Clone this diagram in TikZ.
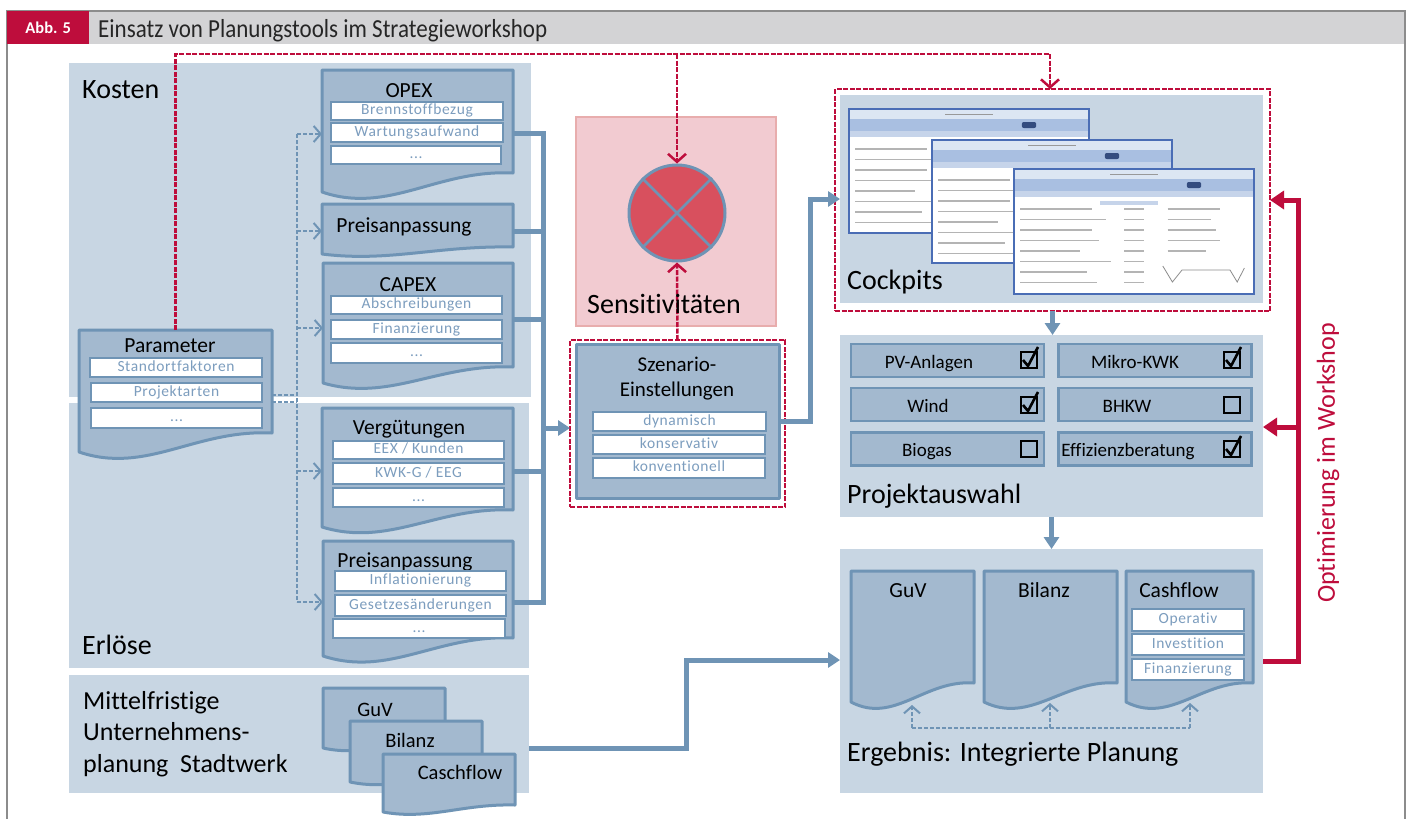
\documentclass[tikz,border=0pt]{standalone}
\usepackage{fontspec}
\usepackage{graphicx}
\setmainfont{Carlito}[Ligatures=NoCommon]
\newfontfamily\spacedfont[LetterSpace=4,Ligatures=NoCommon]{Carlito}
\usetikzlibrary{arrows.meta,calc}
\definecolor{panel}{HTML}{C8D6E3}
\definecolor{docfill}{HTML}{A3B9CF}
\definecolor{docline}{HTML}{6F94B5}
\definecolor{itext}{HTML}{7C9DBE}
\definecolor{myred}{HTML}{BE0D3C}
\definecolor{hgray}{HTML}{D3D3D5}
\definecolor{pinkfill}{HTML}{F2CBD1}
\definecolor{pinkline}{HTML}{E8ADAD}
\definecolor{circfill}{HTML}{D8505E}
\definecolor{shotline}{HTML}{4A6DB5}
\definecolor{shotA}{HTML}{DCE6F3}
\definecolor{shotB}{HTML}{A9BFE1}
\definecolor{shotC}{HTML}{C6D4EA}
\definecolor{shotT}{HTML}{B4B4B4}
\tikzset{
  panelst/.style={fill=panel},
  docst/.style={fill=docfill, draw=docline, line width=3pt, line join=round},
  iboxst/.style={fill=white, draw=docline, line width=2.5pt, inner sep=0pt, text=itext, font=\spacedfont\fontsize{15.5}{15.5}\selectfont, text height=10pt, text depth=3pt},
  bigl/.style={font=\fontsize{28}{28}\selectfont, anchor=base west, inner sep=0pt},
  ttl/.style={font=\fontsize{21.5}{21.5}\selectfont, anchor=base, inner sep=0pt},
  itemst/.style={fill=docfill, draw=docline, line width=2.5pt, inner sep=0pt, minimum width=193pt, minimum height=33pt},
  itemtxt/.style={font=\fontsize{19}{19}\selectfont, anchor=base, inner sep=0pt},
  cbst/.style={draw=black, line width=2pt, minimum size=16pt, inner sep=0pt},
  bus/.style={draw=docline, line width=5pt},
  busarrow/.style={draw=docline, line width=5pt, -{Triangle[length=12pt,width=15pt]}},
  bdash/.style={draw=docline, line width=2pt, dash pattern=on 4pt off 2pt},
  bdasharr/.style={bdash, -{Straight Barb[length=7pt,width=16pt,line width=2pt]}},
  reddash/.style={draw=myred, line width=2.5pt, dash pattern=on 5pt off 1.5pt},
  reddasharr/.style={reddash, -{Straight Barb[length=8pt,width=18pt,line width=2.5pt]}},
  redarr/.style={draw=myred, line width=5pt, -{Triangle[length=14pt,width=18pt]}},
}
\newcommand\docshape[6]{%
  \pgfmathsetmacro\dsw{#4-#2}%
  \draw[docst] (#2,#3) -- (#4,#3) -- (#4,#5) .. controls ({#4-0.4*\dsw},{#5-0.2*#6}) and ({#2+0.35*\dsw},{#5+2.2*#6}) .. (#2,{#5+#6}) -- cycle;
  \node[inner sep=0pt, outer sep=0pt, anchor=north west, minimum width={(#4-#2)*1pt}, minimum height={(#5-#3)*1pt}] (#1) at (#2,#3) {};%
}
\newcommand\mkpanel[6][]{%
  \node[inner sep=0pt, outer sep=0pt, anchor=north west, minimum width={(#5-#3)*1pt}, minimum height={(#6-#4)*1pt}, #1] (#2) at (#3,#4) {};%
}
\newcommand\mkibox[6]{%
  \node[iboxst, minimum width={(#4-#2)*1pt}, minimum height={(#5-#3)*1pt}] (#1) at ({(#2+#4)/2},{(#3+#5)/2}) {#6};%
}
\newcommand\mkcb[4]{%
  \node[cbst] (#1) at (#2,#3) {};%
  \ifnum#4=1 \draw[black, line width=2.6pt] ($(#1.west)+(3,0)$) -- ($(#1.south)+(-1,-3)$) -- ($(#1.north east)+(0,-4)$);\fi
}
\newcommand\mkshot[4]{%
  \pgfmathsetmacro\shw{#3-#1}%
  \fill[white] (#1,#2) rectangle (#3,#4);
  \fill[shotA] (#1,#2) rectangle (#3,#2+10);
  \fill[shotB] (#1,#2+10) rectangle (#3,#2+22);
  \fill[shotC] (#1,#2+22) rectangle (#3,#2+28);
  \draw[black!40, line width=1pt] ({#1+0.4*\shw},#2+5) -- ({#1+0.6*\shw},#2+5);
  \fill[shotline!70!black, rounded corners=2pt] ({#1+0.72*\shw},#2+13) rectangle ({#1+0.78*\shw},#2+19);
  \fill[shotC] ({#1+0.36*\shw},#2+32) rectangle ({#1+0.6*\shw},#2+36);
  \foreach \k/\f in {0/0.30,1/0.36,2/0.30,3/0.33,4/0.25,5/0.38,6/0.28,7/0.32} {
    \draw[shotT, line width=1.3pt] (#1+6,{#2+40+\k*10.5}) -- ({#1+6+\f*\shw},{#2+40+\k*10.5});
    \draw[shotT, line width=1.3pt] ({#1+0.46*\shw},{#2+40+\k*10.5}) -- ({#1+0.54*\shw},{#2+40+\k*10.5});
  }
  \foreach \k/\f in {0/0.22,1/0.18,2/0.2,3/0.22,4/0.16} {
    \draw[shotT, line width=1.3pt] ({#1+0.64*\shw},{#2+40+\k*10.5}) -- ({#1+(0.64+\f)*\shw},{#2+40+\k*10.5});
  }
  \draw[black!45, line width=0.8pt] ({#1+0.62*\shw},#4-28) -- ({#1+0.66*\shw},#4-12) -- ({#1+0.7*\shw},#4-24) -- ({#1+0.9*\shw},#4-24) -- ({#1+0.93*\shw},#4-12) -- ({#1+0.96*\shw},#4-26);
  \draw[shotline, line width=2.5pt] (#1,#2) rectangle (#3,#4);
}
\begin{document}
\begin{tikzpicture}[x=1pt,y=-1pt]
\useasboundingbox (0,0) rectangle (1409,819);
\fill[white] (0,0) rectangle (1409,819);
% header
\fill[hgray] (7,11) rectangle (1405,44);
\draw[black!45, line width=1.2pt] (7,830) -- (7,11) -- (1405,11) -- (1405,830);
\node[fill=myred, inner sep=0pt, minimum width=82pt, minimum height=33pt, anchor=north west, text=white, font=\bfseries\fontsize{16.5}{16.5}\selectfont] (abb) at (7,11) {Abb. 5};
\node[anchor=base west, inner sep=0pt, text=black!85] (title) at (98,37) {\scalebox{0.885}[1]{\fontsize{26}{26}\selectfont Einsatz von Planungstools im Strategieworkshop}};
% panels
\mkpanel[panelst]{kosten}{69}{63}{531}{397}
\mkpanel[panelst]{erloese}{69}{403}{529}{668}
\mkpanel[panelst]{mittel}{69}{675}{529}{793}
\mkpanel[fill=pinkfill, draw=pinkline, line width=1.5pt]{sensbox}{576}{117}{776}{326}
\mkpanel[reddash]{cockout}{835}{89}{1270}{311}
\mkpanel[panelst]{cockpits}{840}{95}{1263}{303}
\mkpanel[panelst]{projekt}{840}{335}{1263}{517}
\mkpanel[panelst]{ergebnis}{840}{549}{1263}{793}
\mkpanel[reddash]{szenout}{570}{340}{785}{507}
\mkpanel[docst]{szenin}{576}{344}{779}{498}
% big labels
\node[bigl] (lkosten) at (82,98) {Kosten};
\node[bigl] (lerloese) at (82,654) {Erlöse};
\node[bigl] (lcock) at (847,289) {Cockpits};
\node[bigl] (lprojekt) at (847,503) {Projektauswahl};
\node[bigl] (lergebnis) at (847,761) {Ergebnis: Integrierte Planung};
\node[anchor=north west, inner sep=0pt, align=left, font=\fontsize{26}{31.5}\selectfont] (lmittel) at (83,691) {Mittelfristige\\Unternehmens-\\planung\ \ Stadtwerk};
% documents left
\docshape{opex}{322}{70}{513}{173}{19}
\docshape{preisA}{322}{204}{513}{247}{7}
\docshape{capex}{323}{263}{513}{367}{16}
\docshape{verg}{322}{408}{513}{510}{17}
\docshape{preisB}{323}{541}{513}{638}{18}
\docshape{param}{79}{330}{272}{433}{19}
\node[ttl] (topex) at (409,97) {OPEX};
\mkibox{b1}{331}{102}{503}{120}{Brennstoffbezug}
\mkibox{b2}{331}{123}{503}{142}{Wartungsaufwand}
\mkibox{b3}{331}{146}{501}{164}{...}
\node[ttl] (tpreisA) at (404,232) {Preisanpassung};
\node[ttl] (tcapex) at (408,291) {CAPEX};
\mkibox{c1}{331}{296}{502}{314}{Abschreibungen}
\mkibox{c2}{331}{320}{502}{339}{Finanzierung}
\mkibox{c3}{331}{343}{502}{363}{...}
\node[ttl] (tparam) at (170,352) {Parameter};
\mkibox{p1}{90}{358}{262}{377}{Standortfaktoren}
\mkibox{p2}{91}{383}{262}{402}{Projektarten}
\mkibox{p3}{91}{408}{262}{428}{...}
\node[ttl] (tverg) at (409,434) {Vergütungen};
\mkibox{v1}{333}{441}{504}{459}{EEX / Kunden}
\mkibox{v2}{333}{463}{504}{484}{KWK-G / EEG}
\mkibox{v3}{333}{488}{504}{507}{...}
\node[ttl] (tpreisB) at (405,567) {Preisanpassung};
\mkibox{q1}{335}{571}{506}{591}{Inflationierung}
\mkibox{q2}{335}{595}{506}{616}{Gesetzesänderungen}
\mkibox{q3}{333}{619}{505}{638}{...}
% Mittelfristige documents
\docshape{mguv}{323}{688}{445}{740}{8}
\docshape{mbil}{350}{721}{482}{774}{8}
\docshape{mcash}{383}{754}{515}{805}{7}
\node[ttl, font=\fontsize{20.5}{20.5}\selectfont] (tmguv) at (375,716) {GuV};
\node[ttl, font=\fontsize{20.5}{20.5}\selectfont] (tmbil) at (410,747) {Bilanz};
\node[ttl, font=\fontsize{20.5}{20.5}\selectfont] (tmcash) at (460,779) {Caschflow};
% Szenario
\node[anchor=north, inner sep=0pt, align=center, font=\fontsize{21}{25}\selectfont] (tszen) at (677,357) {Szenario-\\Einstellungen};
\mkibox{s1}{593}{412}{766}{431}{dynamisch}
\mkibox{s2}{593}{435}{765}{454}{konservativ}
\mkibox{s3}{593}{458}{765}{478}{konventionell}
% Sensitivity circle
\node[circle, fill=circfill, draw=docline, line width=3pt, minimum size=96pt, inner sep=0pt] (sens) at (677,213) {};
\draw[docline, line width=2.5pt] (sens.north west) -- (sens.south east) (sens.north east) -- (sens.south west);
% Cockpit screenshots
\mkshot{849}{109}{1089}{233}
\mkshot{932}{140}{1172}{263}
\mkshot{1014}{169}{1254}{294}
% Projektauswahl
\node[itemst] (i1) at (947.5,360.5) {};
\node[itemst] (i2) at (1155,360.5) {};
\node[itemst] (i3) at (947.5,404.5) {};
\node[itemst] (i4) at (1155,404.5) {};
\node[itemst] (i5) at (947.5,449) {};
\node[itemst] (i6) at (1155,449) {};
\node[itemtxt] (ti1) at (929,368) {PV-Anlagen};
\node[itemtxt] (ti2) at (1135,368) {Mikro-KWK};
\node[itemtxt] (ti3) at (928,412) {Wind};
\node[itemtxt] (ti4) at (1127,412) {BHKW};
\node[itemtxt] (ti5) at (927,456) {Biogas};
\node[itemtxt] (ti6) at (1128,456) {Effizienzberatung};
\mkcb{cb1}{1029}{360}{1}
\mkcb{cb2}{1232}{360}{1}
\mkcb{cb3}{1029}{405}{1}
\mkcb{cb4}{1232}{405}{0}
\mkcb{cb5}{1029}{449}{0}
\mkcb{cb6}{1232}{449}{1}
% Ergebnis
\docshape{eguv}{851}{571}{974}{683}{19}
\docshape{ebil}{984}{571}{1117}{683}{19}
\docshape{ecash}{1126}{571}{1253}{683}{19}
\node[ttl] (teguv) at (908,597) {GuV};
\node[ttl] (tebil) at (1044,597) {Bilanz};
\node[ttl] (tecash) at (1179,597) {Cashflow};
\mkibox{f1}{1132}{609}{1244}{631}{Operativ}
\mkibox{f2}{1132}{634}{1244}{655}{Investition}
\mkibox{f3}{1132}{659}{1244}{680}{Finanzierung}
\coordinate (dguv) at (912,728);
\coordinate (dbil) at (1050,728);
\coordinate (dcash) at (1190,728);
\coordinate (uguv) at (912,705);
\coordinate (ubil) at (1050,703);
\coordinate (ucash) at (1190,703);
\draw[bdash] (dguv) -- (dcash);
\draw[bdasharr] (dguv) -- (uguv);
\draw[bdasharr] (dbil) -- (ubil);
\draw[bdasharr] (dcash) -- (ucash);
% blue dashed from Parameter
\draw[bdash] (param.east |- 0,395) -- (297,395);
\draw[bdash] (param.east |- 0,402) -- (297,402);
\draw[bdash] (297,134) -- (297,602);
\foreach \n/\yy in {opex/134,preisA/231,capex/328,verg/471,preisB/602}
  \draw[bdasharr] (297,\yy) -- (\n.west |- 0,\yy);
% thick blue bus
\draw[bus] (opex.east |- 0,133) -- (543,133) -- (543,602) -- (preisB.east |- 0,602);
\draw[bus] (preisA.east |- 0,231) -- (543,231);
\draw[bus] (capex.east |- 0,319) -- (543,319);
\draw[bus] (verg.east |- 0,471) -- (543,471);
\draw[busarrow] (543,428) -- (szenout.west |- 0,428);
\draw[busarrow] (szenin.east) -- (810,421) -- (810,199) -- (cockpits.west);
\draw[busarrow] (cockout.south) -- (cockout.south |- projekt.north);
\draw[busarrow] (projekt.south) -- (ergebnis.north);
\draw[busarrow] (mittel.east |- 0,748) -- (686,748) -- (686,660) -- (ergebnis.west |- 0,660);
% red dashed
\draw[reddasharr] (param.north) -- (param.north |- 0,54) -- (1050,54) -- (1050,0 |- cockout.north);
\draw[reddasharr] (677,54) -- (sens.north);
\draw[reddasharr] (szenout.north) -- (sens.south);
\node[bigl] (lsens) at (587,313) {Sensitivitäten};
% red solid
\draw[redarr] (ergebnis.east |- 0,661) -- (1298,661) -- (1298,200) -- (cockout.east |- 0,200);
\coordinate (rbranch) at (1298,427);
\draw[redarr] (rbranch) -- (projekt.east |- 0,427);
\node[rotate=90, text=myred, font=\fontsize{26}{26}\selectfont, inner sep=0pt] (lopt) at (1328,463) {Optimierung im Workshop};
\end{tikzpicture}
\end{document}
